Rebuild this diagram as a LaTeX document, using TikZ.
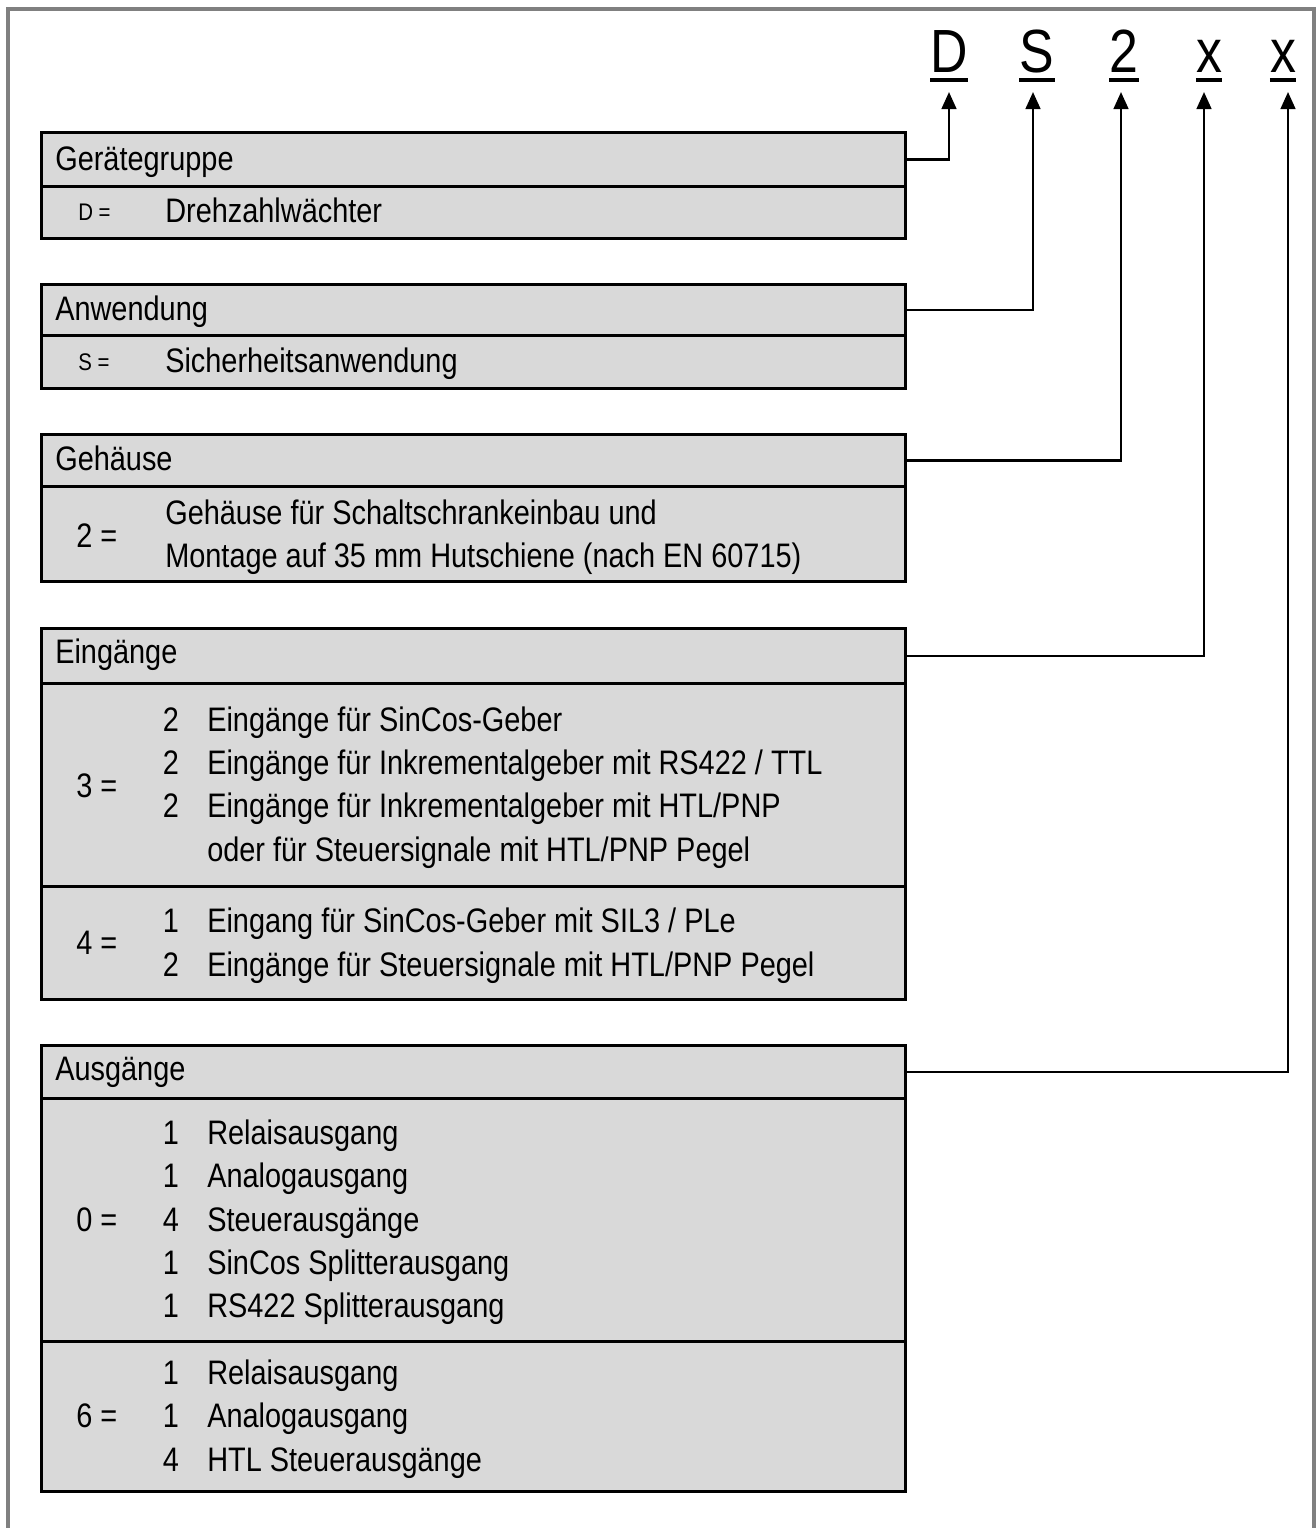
\documentclass[tikz,border=0pt]{standalone}
\usepackage{fontspec}
\setmainfont[FakeStretch=0.85]{Liberation Sans}
\usetikzlibrary{arrows.meta}
\definecolor{boxgray}{HTML}{D9D9D9}
\definecolor{framegray}{HTML}{808080}

% one grey panel of the type-code table: name, top edge, bottom edge (px)
\newcommand\panelbox[3]{\node[panel, minimum height={(#3-#2)*0.75pt}] (#1) at (40,#2) {};}

\begin{document}
\begin{tikzpicture}[x=0.75pt,y=-0.75pt,
  panel/.style={draw=black, fill=boxgray, line width=2.2pt, rectangle,
                inner sep=0pt, anchor=north west, minimum width=648pt},
  txt/.style={anchor=base west, inner sep=0pt, font=\fontsize{25.5}{30}\selectfont},
  num/.style={anchor=base, inner sep=0pt, font=\fontsize{25.5}{30}\selectfont},
  small/.style={anchor=base west, inner sep=0pt, font=\fontsize{18}{21}\selectfont},
  code/.style={anchor=base, inner sep=0pt, font=\fontsize{45.75}{50}\selectfont},
  uline/.style={line width=2.4pt},
  conn/.style={line width=1.8pt, -{Triangle[length=12.75pt,width=11pt]}},
]
\useasboundingbox (0,0) rectangle (1316,1528);

% outer frame (open at the bottom)
\draw[framegray, line width=3pt] (8,1530) -- (8,9) -- (1314,9) -- (1314,1530);

% type code letters
\node[code] (cD) at (949,72) {D};
\node[code] (cS) at (1037,72) {S};
\node[code] (c2) at (1124,72) {2};
\node[code] (cX1) at (1209,72) {x};
\node[code] (cX2) at (1283,72) {x};
\foreach \c in {cD,cS,c2,cX1,cX2}
  \draw[uline] (\c.west |- 0,80) -- (\c.east |- 0,80);

% arrow tips under the letters
\coordinate (aD) at (949,92);
\coordinate (aS) at (1033,92);
\coordinate (a2) at (1121,92);
\coordinate (aX1) at (1204,92);
\coordinate (aX2) at (1288,92);

% panels
\panelbox{h1}{131}{185}
\panelbox{b1}{185}{237}
\panelbox{h2}{283}{334}
\panelbox{b2}{334}{387}
\panelbox{h3}{433}{485}
\panelbox{b3}{485}{580}
\panelbox{h4}{627}{682}
\panelbox{b4a}{682}{885}
\panelbox{b4b}{885}{998}
\panelbox{h5}{1044}{1097}
\panelbox{b5a}{1097}{1340}
\panelbox{b5b}{1340}{1490}

% connectors
\draw[conn] (h1.east) -| (aD);
\draw[conn] (h2.east) -| (aS);
\draw[conn] (h3.east) -| (a2);
\draw[conn] (h4.east) -| (aX1);
\draw[conn] (h5.east) -| (aX2);

% Geraetegruppe
\node[txt] (t1h) at (55,170) {Gerätegruppe};
\node[small] (t1k) at (78,220) {D =};
\node[txt] (t1a) at (165,222) {Drehzahlwächter};

% Anwendung
\node[txt] (t2h) at (55,320) {Anwendung};
\node[small] (t2k) at (78,370) {S =};
\node[txt] (t2a) at (165,372) {Sicherheitsanwendung};

% Gehaeuse
\node[txt] (t3h) at (55,470) {Gehäuse};
\node[txt] (t3k) at (76,547) {2 =};
\node[txt] (t3a) at (165,524) {Gehäuse für Schaltschrankeinbau und};
\node[txt] (t3b) at (165,567) {Montage auf 35 mm Hutschiene (nach EN 60715)};

% Eingaenge
\node[txt] (t4h) at (55,663) {Eingänge};
\node[txt] (t4k) at (76,797) {3 =};
\node[num] (t4n1) at (171,731) {2};
\node[txt] (t4a) at (207,731) {Eingänge für SinCos-Geber};
\node[num] (t4n2) at (171,774) {2};
\node[txt] (t4b) at (207,774) {Eingänge für Inkrementalgeber mit RS422 / TTL};
\node[num] (t4n3) at (171,817) {2};
\node[txt] (t4c) at (207,817) {Eingänge für Inkrementalgeber mit HTL/PNP};
\node[txt] (t4d) at (207,861) {oder für Steuersignale mit HTL/PNP Pegel};
\node[txt] (t4l) at (76,954) {4 =};
\node[num] (t4n4) at (171,932) {1};
\node[txt] (t4e) at (207,932) {Eingang für SinCos-Geber mit SIL3 / PLe};
\node[num] (t4n5) at (171,976) {2};
\node[txt] (t4f) at (207,976) {Eingänge für Steuersignale mit HTL/PNP Pegel};

% Ausgaenge
\node[txt] (t5h) at (55,1080) {Ausgänge};
\node[txt] (t5k) at (76,1231) {0 =};
\node[num] (t5n1) at (171,1144) {1};
\node[txt] (t5a) at (207,1144) {Relaisausgang};
\node[num] (t5n2) at (171,1187) {1};
\node[txt] (t5b) at (207,1187) {Analogausgang};
\node[num] (t5n3) at (171,1231) {4};
\node[txt] (t5c) at (207,1231) {Steuerausgänge};
\node[num] (t5n4) at (171,1274) {1};
\node[txt] (t5d) at (207,1274) {SinCos Splitterausgang};
\node[num] (t5n5) at (171,1317) {1};
\node[txt] (t5e) at (207,1317) {RS422 Splitterausgang};
\node[txt] (t5l) at (76,1427) {6 =};
\node[num] (t5n6) at (171,1384) {1};
\node[txt] (t5f) at (207,1384) {Relaisausgang};
\node[num] (t5n7) at (171,1427) {1};
\node[txt] (t5g) at (207,1427) {Analogausgang};
\node[num] (t5n8) at (171,1471) {4};
\node[txt] (t5i) at (207,1471) {HTL Steuerausgänge};
\end{tikzpicture}
\end{document}
